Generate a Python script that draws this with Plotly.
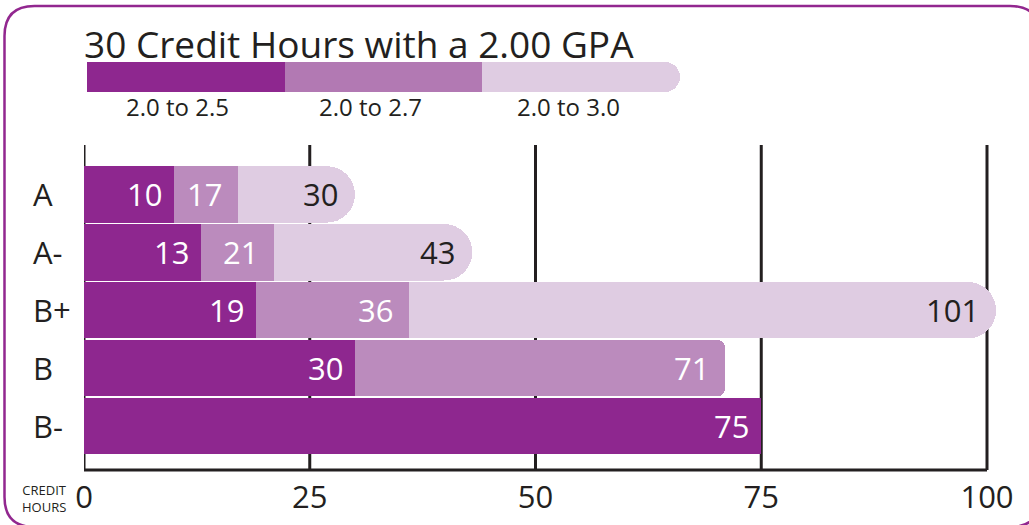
import plotly.graph_objects as go

# ---- data ----
categories = ["A", "A-", "B+", "B", "B-"]
series_names = ["2.0 to 2.5", "2.0 to 2.7", "2.0 to 3.0"]
gpa_25 = [10, 13, 19, 30, 75]
gpa_27 = [17, 21, 36, 71, None]
gpa_30 = [30, 43, 101, None, None]
x_ticks = [0, 25, 50, 75, 100]
x_tick_labels = ["0", "25", "50", "75", "100"]
legend_slots = [1, 2, 3]

title = "30 Credit Hours with a 2.00 GPA"
axis_label = "CREDIT<br>HOURS"

DARK = "#8e278f"
MED = "#bb8bbd"
MED_LEG = "#b279b3"
LIGHT = "#dfcce2"
INK = "#231f20"
FONT = "Open Sans"

W, H = 1029, 525
def px_x(p):
    return p / W
def px_y(p):
    return 1 - p / H

ypos = list(range(len(categories)))

fig = go.Figure()

# main bars (back to front)
for vals, color, radius in [(gpa_30, LIGHT, "50%"), (gpa_27, MED, 8), (gpa_25, DARK, 0)]:
    fig.add_trace(go.Bar(
        x=vals, y=ypos, orientation="h", width=0.975,
        marker=dict(color=color, line=dict(width=0), cornerradius=radius),
        hoverinfo="skip", showlegend=False, xaxis="x", yaxis="y",
    ))

# legend strip as bars
for val, color, radius in [(legend_slots[2], LIGHT, "50%"), (legend_slots[1], MED_LEG, 6), (legend_slots[0], DARK, 0)]:
    fig.add_trace(go.Bar(
        x=[val], y=[0], orientation="h", width=1,
        marker=dict(color=color, line=dict(width=0), cornerradius=radius),
        hoverinfo="skip", showlegend=False, xaxis="x2", yaxis="y2",
    ))

annotations = []
# value labels
for vals, color, shift in [(gpa_25, "white", -10), (gpa_27, "white", -14), (gpa_30, INK, -15)]:
    for i, v in enumerate(vals):
        if v is None:
            continue
        annotations.append(dict(
            x=v, y=i, xref="x", yref="y", text=str(v), showarrow=False,
            xanchor="right", yanchor="middle", xshift=shift,
            font=dict(family=FONT, size=31, color=color),
        ))
# category labels
for i, c in enumerate(categories):
    annotations.append(dict(
        x=px_x(31), y=i, xref="paper", yref="y", text=c, showarrow=False,
        xanchor="left", yanchor="middle",
        font=dict(family=FONT, size=31, color=INK),
    ))
# legend labels
for i, (name, shift) in enumerate(zip(series_names, [-8, -13, -13])):
    annotations.append(dict(
        x=legend_slots[i] - 0.5, y=px_y(107), xref="x2", yref="paper", text=name,
        showarrow=False, xanchor="center", yanchor="middle", xshift=shift,
        font=dict(family=FONT, size=24, color=INK),
    ))
# title
annotations.append(dict(
    x=px_x(82), y=px_y(44), xref="paper", yref="paper", text=title, showarrow=False,
    xanchor="left", yanchor="middle", font=dict(family=FONT, size=37, color=INK),
))
# axis label
annotations.append(dict(
    x=px_x(44), y=px_y(498), xref="paper", yref="paper", text=axis_label,
    showarrow=False, xanchor="center", yanchor="middle", align="center",
    font=dict(family=FONT, size=13, color=INK),
))

shapes = []
for t in x_ticks:
    shapes.append(dict(type="line", xref="x", yref="y domain", x0=t, x1=t, y0=0, y1=1,
                       line=dict(color=INK, width=3), layer="below"))
shapes.append(dict(type="line", xref="x", yref="y domain", x0=x_ticks[0], x1=x_ticks[-1], y0=0, y1=0,
                   line=dict(color=INK, width=3), layer="below"))
# rounded border
x0, y0, x1, y1, r = 4.5, 6, 1040, 527, 30
path = (f"M {x0+r},{y0} L {x1-r},{y0} Q {x1},{y0} {x1},{y0+r} L {x1},{y1-r} Q {x1},{y1} {x1-r},{y1} "
        f"L {x0+r},{y1} Q {x0},{y1} {x0},{y1-r} L {x0},{y0+r} Q {x0},{y0} {x0+r},{y0} Z")
def conv(path):
    out = []
    for tok in path.split(" "):
        if "," in tok:
            a, b = tok.split(",")
            out.append(f"{px_x(float(a)):.5f},{px_y(float(b)):.5f}")
        else:
            out.append(tok)
    return " ".join(out)
shapes.append(dict(type="path", xref="paper", yref="paper", path=conv(path),
                   line=dict(color="#92278f", width=2.5), fillcolor="rgba(0,0,0,0)", layer="above"))

fig.update_layout(
    width=W, height=H, margin=dict(l=0, r=0, t=0, b=0, pad=0, autoexpand=False),
    paper_bgcolor="white", plot_bgcolor="rgba(0,0,0,0)",
    barmode="overlay", bargap=0, showlegend=False,
    annotations=annotations, shapes=shapes,
    xaxis=dict(domain=[px_x(84), px_x(84 + 101.5 * 9.03)], range=[0, 101.5],
               tickvals=x_ticks, ticktext=x_tick_labels, showgrid=False, zeroline=False,
               showline=False, ticks="", tickfont=dict(family=FONT, size=31, color=INK),
               ticklabelstandoff=6, fixedrange=True, automargin=False),
    yaxis=dict(domain=[px_y(470), px_y(145)], range=[4.76, -0.853], showgrid=False,
               zeroline=False, showticklabels=False, showline=False, fixedrange=True,
               automargin=False),
    xaxis2=dict(domain=[px_x(87), px_x(680)], range=[0, 3], visible=False, anchor="y2",
                automargin=False, fixedrange=True),
    yaxis2=dict(domain=[px_y(92), px_y(62)], range=[-0.5, 0.5], visible=False, anchor="x2",
                automargin=False, fixedrange=True),
)

fig.write_html("out.html", config={"displayModeBar": False, "staticPlot": True},
               post_script="document.body.style.margin='0';document.body.style.overflow='hidden';")
